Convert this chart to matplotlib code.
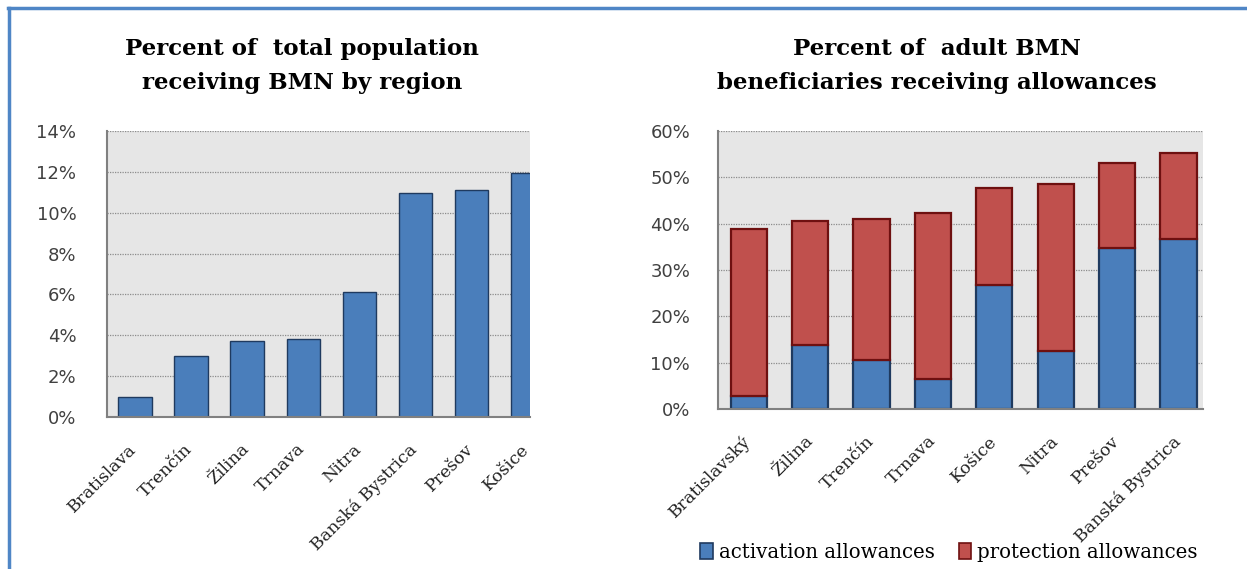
import matplotlib.pyplot as plt
from matplotlib.lines import Line2D
from matplotlib.patches import Patch
from matplotlib.transforms import ScaledTranslation
import numpy as np

# left chart: share of total population receiving BMN (%)
regions_left = ['Bratislava', 'Trenčín', 'Žilina', 'Trnava', 'Nitra',
                'Banská Bystrica', 'Prešov', 'Košice']
share_total = [1.0, 3.0, 3.7, 3.8, 6.1, 10.95, 11.1, 11.95]

# right chart: share of adult BMN beneficiaries receiving allowances (%)
regions_right = ['Bratislavský', 'Žilina', 'Trenčín', 'Trnava', 'Košice',
                 'Nitra', 'Prešov', 'Banská Bystrica']
activation = [2.7, 13.9, 10.5, 6.4, 26.7, 12.5, 34.8, 36.6]
total_allow = [38.8, 40.5, 41.1, 42.4, 47.7, 48.6, 53.1, 55.3]
protection = [t - a for t, a in zip(total_allow, activation)]

blue = '#4a7ebb'
blue_edge = '#1f3a5f'
red = '#c0504d'
red_edge = '#6e1010'
bg = '#e6e6e6'
serif = 'DejaVu Serif'

W, H = 1247, 569
fig = plt.figure(figsize=(W / 100, H / 100), dpi=100)


def px_axes(x0, y0, x1, y1):
    # pixel box (top-left origin) -> figure axes
    return fig.add_axes([x0 / W, 1 - y1 / H, (x1 - x0) / W, (y1 - y0) / H])


def style(ax, ymax, step, pad):
    ax.set_facecolor(bg)
    ax.set_ylim(0, ymax)
    ax.set_yticks(np.arange(0, ymax + step / 2, step))
    ax.set_yticklabels([f'{int(v)}%' for v in np.arange(0, ymax + step / 2, step)],
                       fontsize=13, color='#404040', family='DejaVu Sans')
    ax.tick_params(axis='y', length=0, pad=pad)
    ax.tick_params(axis='x', length=0, pad=17)
    ax.yaxis.grid(True, linestyle=(0, (1, 1)), color='#8c8c8c', linewidth=0.9)
    ax.set_axisbelow(True)
    for s in ['top', 'right']:
        ax.spines[s].set_visible(False)
    for s in ['left', 'bottom']:
        ax.spines[s].set_color('#808080')
        ax.spines[s].set_linewidth(1.5)


def shift_labels(ax, dx_px):
    off = ScaledTranslation(dx_px / 100, 0, fig.dpi_scale_trans)
    for lab in ax.get_xticklabels():
        lab.set_transform(lab.get_transform() + off)


# ---- left chart ----
ax1 = px_axes(107, 131, 530, 417)
x1 = np.arange(len(regions_left))
ax1.bar(x1, share_total, width=0.6, color=blue, edgecolor=blue_edge, linewidth=1.0)
ax1.set_xlim(-0.5, 7.04)
style(ax1, 14, 2, 22)
ax1.set_xticks(x1)
ax1.set_xticklabels(regions_left, rotation=45, ha='right', va='top',
                    fontsize=12.5, family=serif, color='#222222')
shift_labels(ax1, 5)
fig.text(302 / W, 1 - 66 / H, 'Percent of  total population\nreceiving BMN by region',
         ha='center', va='center', fontsize=16.5, fontweight='bold', family=serif,
         linespacing=1.65)

# ---- right chart ----
ax2 = px_axes(718, 131, 1203, 409)
x2 = np.arange(len(regions_right))
ax2.bar(x2, activation, width=0.59, color=blue, edgecolor=blue_edge, linewidth=1.6)
ax2.bar(x2, protection, width=0.59, bottom=activation, color=red,
        edgecolor=red_edge, linewidth=1.6)
ax2.set_xlim(-0.5, 7.4)
style(ax2, 60, 10, 20)
ax2.set_xticks(x2)
ax2.set_xticklabels(regions_right, rotation=45, ha='right', va='top',
                    fontsize=12.5, family=serif, color='#222222')
shift_labels(ax2, 6)
fig.text(937 / W, 1 - 66 / H, 'Percent of  adult BMN\nbeneficiaries receiving allowances',
         ha='center', va='center', fontsize=16.5, fontweight='bold', family=serif,
         linespacing=1.65)

handles = [Patch(facecolor=blue, edgecolor=blue_edge, linewidth=1.2),
           Patch(facecolor=red, edgecolor=red_edge, linewidth=1.2)]
fig.legend(handles, ['activation allowances', 'protection allowances'],
           loc='center', bbox_to_anchor=(949 / W, 1 - 552 / H), ncol=2,
           frameon=False, handlelength=0.65, handleheight=0.85, handletextpad=0.3,
           columnspacing=1.2, prop={'family': serif, 'size': 14.2})

# blue page frame at top and left
frame = '#4f86c6'
fig.add_artist(Line2D([8 / W, 1], [1 - 8 / H, 1 - 8 / H], color=frame, linewidth=2.5,
                      transform=fig.transFigure))
fig.add_artist(Line2D([9 / W, 9 / W], [0, 1 - 8 / H], color=frame, linewidth=2.5,
                      transform=fig.transFigure))

fig.savefig('out.png', dpi=100)
